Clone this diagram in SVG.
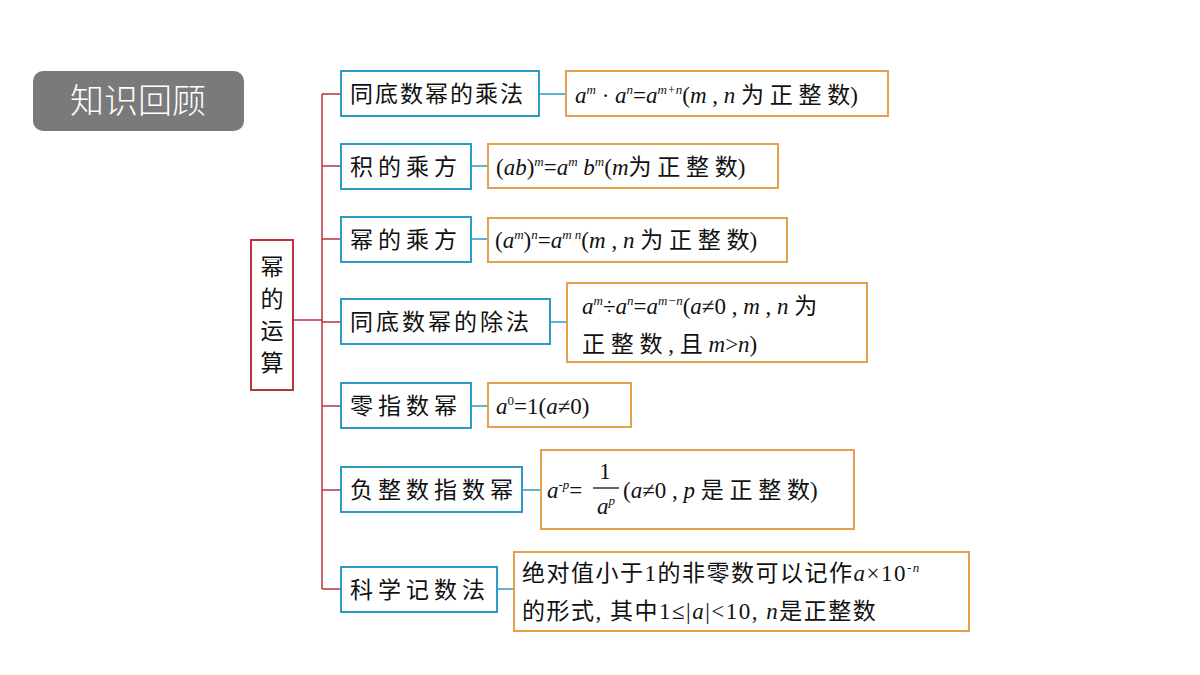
<svg xmlns="http://www.w3.org/2000/svg" width="1200" height="675" viewBox="0 0 1200 675">
<style>
.b{fill:#fff;stroke:#2e9bc6;stroke-width:2}
.o{fill:#fff;stroke:#e3a04f;stroke-width:2}
.t{font-family:"Liberation Serif","Noto Sans CJK SC",serif;font-size:23px;fill:#111}
.i{font-style:italic}
.s{font-size:13px}
.c{stroke:#b5353a;stroke-width:1.5;fill:none}
.d{stroke:#2e9bc6;stroke-width:1.5;fill:none}
</style>
<rect width="1200" height="675" fill="#fff"/>
<g id="title"><rect x="33" y="71" width="211" height="60" rx="10" fill="#7a7a7a"/><text x="138" y="113" text-anchor="middle" font-family="Noto Sans CJK SC,sans-serif" font-size="34" font-weight="300" fill="#fff">知识回顾</text></g>
<g id="connectors">
<path class="c" d="M293 320H322M322 94V589M322 94H341M322 166H341M322 239H341M322 322H341M322 406H341M322 490H341M322 589H341"/>
<path class="d" d="M539 94H566M471 166H488M471 239H488M550 322H567M471 406H488M522 490H541M497 589H514"/>
</g>
<g id="root"><rect x="251" y="240" width="42" height="150" fill="#fff" stroke="#b5353a" stroke-width="2"/>
<text class="t" text-anchor="middle" x="272" font-size="22"><tspan x="272" y="275">幂</tspan><tspan x="272" y="307">的</tspan><tspan x="272" y="339">运</tspan><tspan x="272" y="371">算</tspan></text></g>
<g id="n1"><rect class="b" x="341" y="71" width="198" height="45"/><text class="t" x="350" y="102" font-size="22" letter-spacing="2">同底数幂的乘法</text></g>
<g id="n2"><rect class="b" x="341" y="144" width="130" height="45"/><text class="t" x="350" y="175" font-size="22" letter-spacing="5">积的乘方</text></g>
<g id="n3"><rect class="b" x="341" y="217" width="130" height="45"/><text class="t" x="350" y="248" font-size="22" letter-spacing="5">幂的乘方</text></g>
<g id="n4"><rect class="b" x="341" y="299" width="209" height="45"/><text class="t" x="350" y="330" font-size="22" letter-spacing="3">同底数幂的除法</text></g>
<g id="n5"><rect class="b" x="341" y="383" width="130" height="45"/><text class="t" x="350" y="414" font-size="22" letter-spacing="5">零指数幂</text></g>
<g id="n6"><rect class="b" x="341" y="467" width="181" height="45"/><text class="t" x="350" y="498" font-size="22" letter-spacing="5">负整数指数幂</text></g>
<g id="n7"><rect class="b" x="341" y="567" width="156" height="45"/><text class="t" x="350" y="598" font-size="22" letter-spacing="5">科学记数法</text></g>
<g id="f1"><rect class="o" x="566" y="71" width="322" height="45"/><text class="t" x="575" y="103"><tspan class="i">a</tspan><tspan class="i s" dy="-9">m</tspan><tspan dy="9"> · </tspan><tspan class="i">a</tspan><tspan class="i s" dy="-9">n</tspan><tspan dy="9">=</tspan><tspan class="i">a</tspan><tspan class="i s" dy="-9">m+n</tspan><tspan dy="9">(</tspan><tspan class="i">m</tspan> , <tspan class="i">n</tspan> 为 正 整 数)</text></g>
<g id="f2"><rect class="o" x="488" y="144" width="290" height="44"/><text class="t" x="496" y="175">(<tspan class="i">ab</tspan>)<tspan class="i s" dy="-9">m</tspan><tspan dy="9">=</tspan><tspan class="i">a</tspan><tspan class="i s" dy="-9">m</tspan><tspan dy="9"> </tspan><tspan class="i">b</tspan><tspan class="i s" dy="-9">m</tspan><tspan dy="9">(</tspan><tspan class="i">m</tspan>为 正 整 数)</text></g>
<g id="f3"><rect class="o" x="488" y="218" width="299" height="44"/><text class="t" x="495" y="248">(<tspan class="i">a</tspan><tspan class="i s" dy="-9">m</tspan><tspan dy="9">)</tspan><tspan class="i s" dy="-9">n</tspan><tspan dy="9">=</tspan><tspan class="i">a</tspan><tspan class="i s" dy="-9">m n</tspan><tspan dy="9">(</tspan><tspan class="i">m</tspan> , <tspan class="i">n</tspan> 为 正 整 数)</text></g>
<g id="f4"><rect class="o" x="567" y="283" width="300" height="79"/><text class="t" x="582" y="314"><tspan class="i">a</tspan><tspan class="i s" dy="-9">m</tspan><tspan dy="9">÷</tspan><tspan class="i">a</tspan><tspan class="i s" dy="-9">n</tspan><tspan dy="9">=</tspan><tspan class="i">a</tspan><tspan class="i s" dy="-9">m−n</tspan><tspan dy="9">(</tspan><tspan class="i">a</tspan>≠0 , <tspan class="i">m</tspan> , <tspan class="i">n</tspan> 为</text><text class="t" x="582" y="352">正 整 数 , 且 <tspan class="i">m</tspan>&gt;<tspan class="i">n</tspan>)</text></g>
<g id="f5"><rect class="o" x="488" y="383" width="143" height="44"/><text class="t" x="496" y="414"><tspan class="i">a</tspan><tspan class="s" dy="-9">0</tspan><tspan dy="9">=1(</tspan><tspan class="i">a</tspan>≠0)</text></g>
<g id="f6"><rect class="o" x="541" y="450" width="313" height="79"/><text class="t" x="547" y="498"><tspan class="i">a</tspan><tspan class="i s" dy="-9">-p</tspan><tspan dy="9">=</tspan></text><text class="t" x="605" y="479" text-anchor="middle">1</text><line x1="593" y1="488" x2="619" y2="488" stroke="#111" stroke-width="1.3"/><text class="t" x="597" y="514"><tspan class="i">a</tspan><tspan class="i s" dy="-9">p</tspan></text><text class="t" x="623" y="498">(<tspan class="i">a</tspan>≠0 , <tspan class="i">p</tspan> 是 正 整 数)</text></g>
<g id="f7"><rect class="o" x="514" y="552" width="455" height="79"/><text class="t" x="522" y="581" font-size="22" letter-spacing="1.5">绝对值小于1的非零数可以记作<tspan class="i">a</tspan>×10<tspan class="i s" dy="-9">-n</tspan></text><text class="t" x="522" y="619" font-size="22" letter-spacing="1.5">的形式, 其中1≤|<tspan class="i">a</tspan>|&lt;10, <tspan class="i">n</tspan>是正整数</text></g>
</svg>
